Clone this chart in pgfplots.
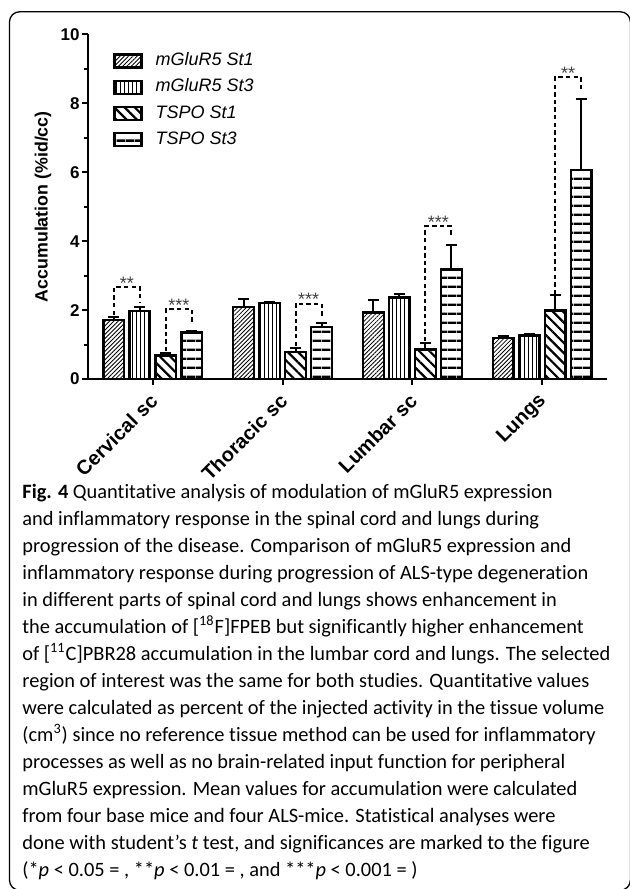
\documentclass[border=0pt]{standalone}
\usepackage{fontspec}
\setmainfont{Liberation Sans}
\newfontfamily\capfont[Ligatures=NoCommon]{Carlito}
\usepackage{pgfplots}
\pgfplotsset{compat=1.18}
\usetikzlibrary{patterns.meta}

\pgfplotsset{
  mybar/.style={ybar, bar width=0.16, bar shift=0pt, draw=black, line width=1.15pt,
    error bars/y dir=plus, error bars/y explicit,
    error bars/error bar style={line width=1pt, solid, black},
    error bars/error mark options={rotate=90, mark size=2.75pt, line width=1pt, black},
    legend image code/.code={\draw[##1, line width=1.15pt] (0pt,-3.25pt) rectangle (13.5pt,3.25pt);}},
  sig/.style={forget plot, mark=none, black, line width=1pt, dash pattern=on 2.2pt off 1.6pt},
}

\pgfplotstableread{
x y e
-0.3 1.71 0.09
0.7 2.10 0.21
1.7 1.93 0.36
2.7 1.19 0.06
}\mgA
\pgfplotstableread{
x y e
-0.1 1.98 0.10
0.9 2.20 0.04
1.9 2.37 0.11
2.9 1.26 0.05
}\mgB
\pgfplotstableread{
x y e
0.1 0.68 0.08
1.1 0.79 0.12
2.1 0.86 0.19
3.1 1.99 0.45
}\tsA
\pgfplotstableread{
x y e
0.3 1.35 0.04
1.3 1.50 0.13
2.3 3.18 0.70
3.3 6.06 2.08
}\tsB

\begin{document}
\begin{tikzpicture}
\useasboundingbox (0pt,0pt) rectangle (314.5pt,444.5pt);
\draw[line width=0.65pt, rounded corners=5pt] (4.75pt,-0.6pt) rectangle (315.2pt,438.6pt);
\begin{axis}[
  at={(44pt,255pt)}, anchor=south west,
  scale only axis, width=259.5pt, height=172.25pt,
  xmin=-0.5, xmax=3.5, ymin=0, ymax=10,
  axis x line=bottom, axis y line=left,
  axis line style={-, line width=1.2pt},
  tick align=outside, major tick length=3pt, minor tick length=2pt,
  tick style={line width=1pt, black},
  xtick={0,1,2,3}, xticklabels={Cervical sc, Thoracic sc, Lumbar sc, Lungs},
  ytick={0,2,4,6,8,10}, minor ytick={1,3,5,7,9},
  /pgf/number format/assume math mode=true,
  yticklabel style={font=\bfseries\fontsize{8.5}{10}\selectfont, inner sep=1pt},
  xticklabel style={font=\bfseries\fontsize{10}{11}\selectfont, xshift=3pt, yshift=-4pt, rotate=45, anchor=east},
  ylabel={Accumulation (\%id/cc)},
  ylabel style={font=\bfseries\fontsize{8.9}{10}\selectfont, at={(axis description cs:-0.0867,0.5)}, anchor=center},
  legend style={at={(axis description cs:0.0482,0.949)}, anchor=north west, draw=none, fill=none,
    inner sep=0pt, row sep=4.75pt, column sep=6.5pt,
    font=\itshape\fontsize{9}{10}\selectfont,
    nodes={inner sep=0pt, text height=6.5pt, text depth=1.9pt}},
  legend cell align=left,
  clip=false,
]
\addplot[mybar, pattern={Lines[angle=45,distance=1.5pt,line width=0.4pt]}] table[x=x,y=y,y error=e]{\mgA};
\addplot[mybar, pattern={Lines[angle=90,distance=2pt,line width=0.45pt]}] table[x=x,y=y,y error=e]{\mgB};
\addplot[mybar, pattern={Lines[angle=-45,distance=3.6pt,line width=1.1pt]}] table[x=x,y=y,y error=e]{\tsA};
\addplot[mybar, pattern={Lines[angle=0,distance=4.35pt,line width=1.2pt]}] table[x=x,y=y,y error=e]{\tsB};
\legend{mGluR5 St1, mGluR5 St3, TSPO St1, TSPO St3}

\addplot[sig] coordinates {(-0.3,1.86) (-0.3,2.67) (-0.1,2.67) (-0.1,2.24)};
\addplot[sig] coordinates {(0.1,0.80) (0.1,2.02) (0.3,2.02) (0.3,1.57)};
\addplot[sig] coordinates {(1.1,0.96) (1.1,2.19) (1.3,2.19) (1.3,1.80)};
\addplot[sig] coordinates {(2.1,1.10) (2.1,4.43) (2.3,4.43) (2.3,4.12)};
\addplot[sig] coordinates {(3.1,2.46) (3.1,8.76) (3.3,8.76) (3.3,8.38)};

\node[font=\fontsize{9}{10}\selectfont, text=black!75, anchor=base] at (axis cs:-0.2,2.60) {**};
\node[font=\fontsize{9}{10}\selectfont, text=black!75, anchor=base] at (axis cs:0.2,1.95) {***};
\node[font=\fontsize{9}{10}\selectfont, text=black!75, anchor=base] at (axis cs:1.2,2.12) {***};
\node[font=\fontsize{9}{10}\selectfont, text=black!75, anchor=base] at (axis cs:2.2,4.36) {***};
\node[font=\fontsize{9}{10}\selectfont, text=black!75, anchor=base] at (axis cs:3.2,8.69) {**};
\end{axis}
\node[anchor=north west, align=left, inner sep=0pt,
  font=\capfont\fontsize{10.2}{13.5}\selectfont] at (11pt,202.8pt) {%
\textbf{Fig. 4} Quantitative analysis of modulation of mGluR5 expression\\
and inflammatory response in the spinal cord and lungs during\\
progression of the disease. Comparison of mGluR5 expression and\\
inflammatory response during progression of ALS-type degeneration\\
in different parts of spinal cord and lungs shows enhancement in\\
the accumulation of [\textsuperscript{18}F]FPEB but significantly higher enhancement\\
of [\textsuperscript{11}C]PBR28 accumulation in the lumbar cord and lungs. The selected\\
region of interest was the same for both studies. Quantitative values\\
were calculated as percent of the injected activity in the tissue volume\\
(cm\textsuperscript{3}) since no reference tissue method can be used for inflammatory\\
processes as well as no brain-related input function for peripheral\\
mGluR5 expression. Mean values for accumulation were calculated\\
from four base mice and four ALS-mice. Statistical analyses were\\
done with student’s \textit{t} test, and significances are marked to the figure\\
(*\textit{p} < 0.05 = , **\textit{p} < 0.01 = , and ***\textit{p} < 0.001 = )};
\end{tikzpicture}
\end{document}
